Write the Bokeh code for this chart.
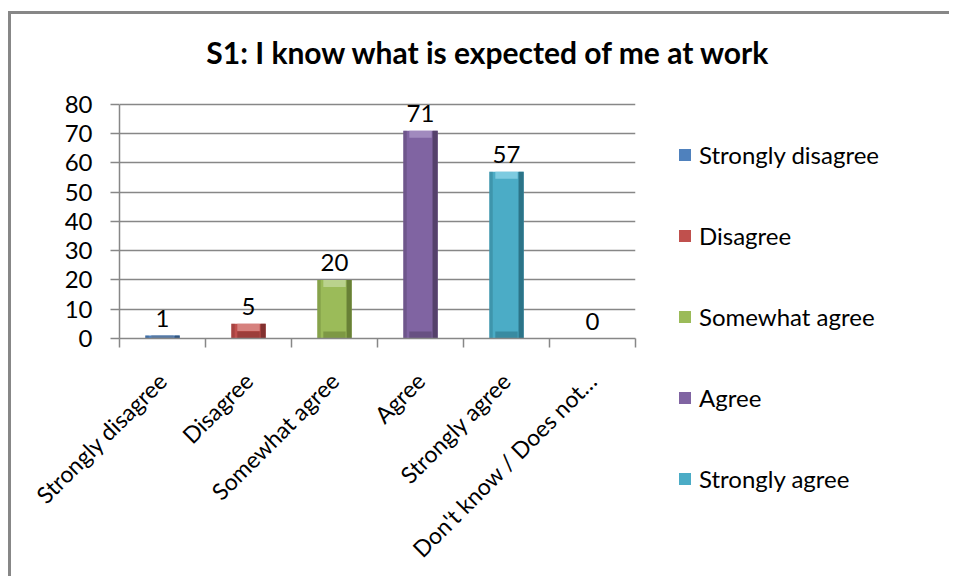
import numpy as np
from bokeh.plotting import figure
from bokeh.layouts import column, row
from bokeh.models import (Range1d, FixedTicker, Legend, LegendItem, ColumnDataSource, Label)
from bokeh.transform import dodge
from bokeh.core.properties import value
from bokeh.embed import file_html
from bokeh.resources import INLINE

# ---------------- data ----------------
title_text = "S1: I know what is expected of me at work"
categories = ["Strongly disagree", "Disagree", "Somewhat agree", "Agree",
              "Strongly agree", "Don't know / Does not\u2026"]
counts = [1, 5, 20, 71, 57, 0]
y_ticks = [0, 10, 20, 30, 40, 50, 60, 70, 80]
legend_labels = ["Strongly disagree", "Disagree", "Somewhat agree", "Agree", "Strongly agree"]

# ---------------- styles ----------------
main_colors = ["#4F81BD", "#C0504D", "#9BBB59", "#8064A2", "#4BACC6", "#F79646"]
dark_colors = ["#2C4D75", "#772C2A", "#5F7530", "#4D3B62", "#276A7C", "#B65708"]
light_colors = ["#8EADD6", "#DB8D8B", "#C2D89A", "#A994C6", "#8AD3E6", "#FAC08F"]
GRAY = "#878787"
FONT = "Lato"

positions = [i + 0.5 for i in range(len(categories))]
boundaries = list(range(len(categories) + 1))
vals = np.array(counts, dtype=float)
bevel = 2.4
src = ColumnDataSource(dict(
    x=positions, top=counts, main=main_colors, dark=dark_colors, light=light_colors,
    label=[str(c) for c in counts],
    tb=np.maximum(vals - bevel, 0.0), bt=np.minimum(vals, bevel),
))

TOP_H, MAIN_W, TOTAL_W, TOTAL_H = 70, 654, 938, 562


def clean(fig):
    fig.outline_line_color = None
    fig.background_fill_color = "white"
    fig.border_fill_color = "white"
    fig.frame_align = False
    return fig


# ---------- title strip ----------
p_top = clean(figure(width=TOTAL_W, height=TOP_H, output_backend="svg", toolbar_location=None,
                     x_range=Range1d(0, TOTAL_W), y_range=Range1d(0, TOP_H),
                     x_axis_type=None, y_axis_type=None, min_border=0))
p_top.grid.visible = False
p_top.add_layout(Label(x=477, y=TOP_H - 37, text=title_text, text_align="center",
                       text_baseline="middle", text_font=FONT, text_font_style="bold",
                       text_font_size="30px", text_color="#000000"))

# ---------- main chart ----------
p = clean(figure(width=MAIN_W, height=TOTAL_H - TOP_H, output_backend="svg",
                 toolbar_location=None, x_range=Range1d(0, 6), y_range=Range1d(0, 84.1),
                 min_border_left=108, min_border_right=30, min_border_top=8,
                 min_border_bottom=TOTAL_H - TOP_H - 254))

main_r = p.vbar(x="x", top="top", width=0.40, bottom=0, source=src,
                fill_color="main", line_color=None)
p.vbar(x=dodge("x", 0.17, range=p.x_range), top="top", bottom=0, width=0.06, source=src,
       fill_color="dark", fill_alpha=0.85, line_color=None)
p.vbar(x=dodge("x", -0.18, range=p.x_range), top="top", bottom=0, width=0.04, source=src,
       fill_color="dark", fill_alpha=0.35, line_color=None)
p.vbar(x="x", top="top", bottom="tb", width=0.26, source=src,
       fill_color="light", fill_alpha=0.8, line_color=None)
p.vbar(x="x", top="bt", bottom=0, width=0.26, source=src,
       fill_color="dark", fill_alpha=0.5, line_color=None)

p.text(x="x", y="top", text="label", source=src, text_align="center",
       text_baseline="alphabetic", y_offset=-17, text_font=value(FONT),
       text_font_size="24px", text_color="#000000")

p.xgrid.visible = False
p.ygrid.ticker = FixedTicker(ticks=y_ticks)
p.ygrid.grid_line_color = GRAY
p.ygrid.grid_line_width = 1.5

ya = p.yaxis[0]
ya.ticker = FixedTicker(ticks=y_ticks)
ya.bounds = (y_ticks[0], y_ticks[-1])
ya.axis_line_color = GRAY
ya.axis_line_width = 1.5
ya.major_tick_line_color = GRAY
ya.major_tick_line_width = 1.5
ya.major_tick_out = 9
ya.major_tick_in = 0
ya.minor_tick_line_color = None
ya.major_label_standoff = 18
ya.major_label_text_font = FONT
ya.major_label_text_font_size = "24px"
ya.major_label_text_color = "#000000"

xa = p.xaxis[0]
xa.ticker = FixedTicker(ticks=positions, minor_ticks=boundaries)
xa.major_label_overrides = {pos: cat for pos, cat in zip(positions, categories)}
xa.axis_line_color = GRAY
xa.axis_line_width = 1.5
xa.major_tick_line_color = None
xa.major_tick_out = 0
xa.major_tick_in = 0
xa.minor_tick_line_color = GRAY
xa.minor_tick_line_width = 1.5
xa.minor_tick_out = 9
xa.minor_tick_in = 0
xa.major_label_orientation = np.pi / 4
xa.major_label_standoff = 29
xa.major_label_text_font = FONT
xa.major_label_text_font_size = "23px"
xa.major_label_text_color = "#000000"

# ---------- legend strip ----------
p_leg = clean(figure(width=TOTAL_W - MAIN_W, height=TOTAL_H - TOP_H, output_backend="svg",
                     toolbar_location=None, x_range=Range1d(100, 101), y_range=Range1d(100, 101),
                     x_axis_type=None, y_axis_type=None, min_border=0))
p_leg.grid.visible = False
leg_r = p_leg.vbar(x="x", top="top", width=0.40, bottom=0, source=src,
                   fill_color="main", line_color=None)
items = [LegendItem(label=legend_labels[i], renderers=[leg_r], index=i)
         for i in range(len(legend_labels))]
legend = Legend(items=items, location=(12, 83), orientation="vertical",
                glyph_width=15, glyph_height=15, label_standoff=7, spacing=52,
                label_height=29, padding=0, margin=0, border_line_color=None,
                background_fill_alpha=0, label_text_font=FONT,
                label_text_font_size="24px", label_text_color="#000000")
p_leg.add_layout(legend)

layout = column(p_top, row(p, p_leg, spacing=0), spacing=0)
layout.styles = {"border-left": f"3px solid {GRAY}", "border-top": f"3px solid {GRAY}",
                 "margin-top": "11px", "margin-left": "8px"}

open("out.html", "w").write(file_html(layout, INLINE))
